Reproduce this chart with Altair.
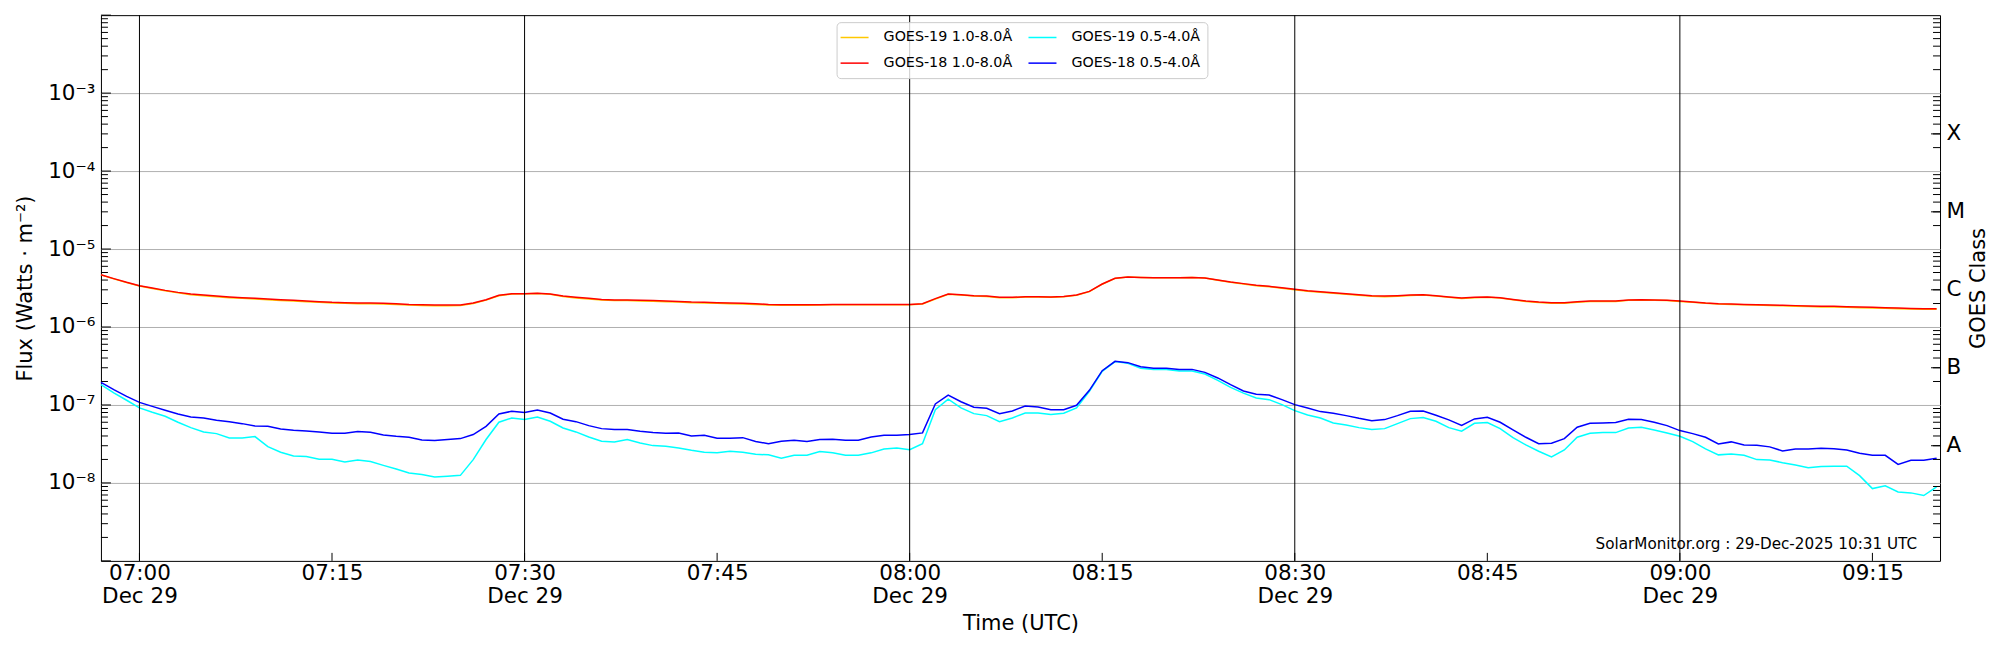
import json
import altair as alt
import pandas as pd

# ---------------- data: 1-minute GOES XRS samples, 29 Dec 2025, 06:57 .. 09:20 UTC ----------------
# long channel (1.0-8.0 Å) in units of 1e-6 W m^-2
g18_long = [4.69, 4.17, 3.74, 3.39, 3.16, 2.95, 2.78, 2.65, 2.57, 2.49,
            2.43, 2.38, 2.33, 2.29, 2.24, 2.20, 2.15, 2.11, 2.07, 2.05,
            2.03, 2.03, 2.01, 1.99, 1.95, 1.93, 1.91, 1.91, 1.91, 2.03,
            2.24, 2.55, 2.67, 2.67, 2.70, 2.65, 2.49, 2.40, 2.33, 2.26,
            2.22, 2.22, 2.20, 2.18, 2.15, 2.13, 2.09, 2.07, 2.05, 2.03,
            2.01, 1.99, 1.95, 1.93, 1.93, 1.93, 1.93, 1.95, 1.95, 1.95,
            1.95, 1.95, 1.95, 1.95, 1.99, 2.31, 2.65, 2.60, 2.52, 2.49,
            2.40, 2.40, 2.45, 2.45, 2.43, 2.47, 2.57, 2.86, 3.56, 4.21,
            4.38, 4.33, 4.29, 4.29, 4.29, 4.33, 4.25, 4.01, 3.78, 3.60,
            3.42, 3.32, 3.19, 3.04, 2.92, 2.84, 2.75, 2.67, 2.60, 2.52,
            2.49, 2.52, 2.57, 2.60, 2.52, 2.43, 2.35, 2.40, 2.43, 2.38,
            2.26, 2.15, 2.09, 2.05, 2.05, 2.11, 2.15, 2.15, 2.15, 2.22,
            2.24, 2.22, 2.20, 2.15, 2.09, 2.03, 1.99, 1.97, 1.95, 1.93,
            1.91, 1.90, 1.88, 1.86, 1.84, 1.84, 1.82, 1.80, 1.79, 1.77,
            1.75, 1.73, 1.72, 1.72]
g19_long = [4.66, 4.14, 3.71, 3.36, 3.12, 2.91, 2.74, 2.60, 2.52, 2.44,
            2.38, 2.33, 2.28, 2.24, 2.19, 2.15, 2.11, 2.07, 2.03, 2.01,
            1.99, 1.99, 1.97, 1.95, 1.91, 1.89, 1.87, 1.87, 1.88, 2.00,
            2.21, 2.52, 2.65, 2.66, 2.68, 2.63, 2.46, 2.36, 2.29, 2.22,
            2.18, 2.18, 2.16, 2.14, 2.11, 2.09, 2.05, 2.03, 2.01, 1.99,
            1.97, 1.95, 1.92, 1.90, 1.90, 1.90, 1.91, 1.93, 1.93, 1.93,
            1.93, 1.93, 1.93, 1.93, 1.97, 2.28, 2.63, 2.57, 2.49, 2.46,
            2.37, 2.37, 2.42, 2.43, 2.41, 2.45, 2.55, 2.84, 3.54, 4.20,
            4.38, 4.33, 4.28, 4.28, 4.28, 4.32, 4.24, 3.99, 3.75, 3.57,
            3.39, 3.29, 3.15, 3.00, 2.88, 2.80, 2.71, 2.63, 2.56, 2.48,
            2.45, 2.48, 2.54, 2.57, 2.49, 2.40, 2.32, 2.37, 2.40, 2.35,
            2.23, 2.12, 2.06, 2.02, 2.02, 2.08, 2.12, 2.13, 2.13, 2.20,
            2.22, 2.20, 2.18, 2.13, 2.07, 2.01, 1.97, 1.95, 1.93, 1.91,
            1.89, 1.87, 1.85, 1.83, 1.81, 1.81, 1.79, 1.77, 1.75, 1.74,
            1.72, 1.70, 1.69, 1.69]
# short channel (0.5-4.0 Å) in units of 1e-8 W m^-2
g18_short = [19.5, 15.7, 12.9, 10.8, 9.60, 8.55, 7.67, 7.02, 6.81, 6.35,
             6.11, 5.76, 5.38, 5.32, 4.92, 4.73, 4.64, 4.51, 4.33, 4.33,
             4.55, 4.46, 4.12, 3.96, 3.85, 3.56, 3.49, 3.60, 3.70, 4.17,
             5.32, 7.67, 8.30, 7.98, 8.63, 7.89, 6.55, 6.11, 5.43, 4.97,
             4.83, 4.83, 4.60, 4.42, 4.33, 4.38, 4.01, 4.09, 3.74, 3.74,
             3.81, 3.39, 3.19, 3.42, 3.52, 3.39, 3.60, 3.63, 3.52, 3.52,
             3.89, 4.09, 4.09, 4.17, 4.38, 10.3, 13.4, 11.0, 9.33, 9.06,
             7.74, 8.37, 9.70, 9.42, 8.71, 8.71, 9.90, 15.4, 27.5, 36.3,
             34.9, 31.0, 29.5, 29.5, 28.6, 28.6, 26.2, 22.2, 18.2, 15.1,
             13.7, 13.4, 11.7, 10.1, 9.16, 8.22, 7.82, 7.30, 6.74, 6.29,
             6.49, 7.30, 8.30, 8.37, 7.38, 6.43, 5.48, 6.62, 6.95, 6.00,
             4.78, 3.85, 3.19, 3.23, 3.70, 5.18, 5.82, 5.87, 5.94, 6.55,
             6.49, 6.00, 5.43, 4.69, 4.29, 3.85, 3.16, 3.36, 3.07, 3.04,
             2.90, 2.57, 2.73, 2.73, 2.78, 2.75, 2.65, 2.40, 2.26, 2.26,
             1.73, 1.95, 1.95, 2.07]
g19_short = [18.2, 14.3, 11.5, 9.16, 8.06, 7.16, 6.00, 5.12, 4.51, 4.29,
             3.77, 3.77, 3.93, 2.92, 2.47, 2.22, 2.18, 2.01, 2.01, 1.86,
             1.97, 1.88, 1.68, 1.51, 1.34, 1.28, 1.19, 1.22, 1.25, 1.99,
             3.60, 6.00, 6.81, 6.49, 7.02, 6.18, 5.07, 4.51, 3.89, 3.42,
             3.36, 3.60, 3.26, 3.01, 2.95, 2.81, 2.62, 2.47, 2.43, 2.55,
             2.47, 2.33, 2.29, 2.07, 2.26, 2.26, 2.52, 2.43, 2.26, 2.26,
             2.43, 2.73, 2.81, 2.67, 3.19, 8.71, 11.9, 9.16, 7.74, 7.30,
             6.11, 6.81, 7.89, 7.89, 7.52, 7.82, 9.16, 15.0, 27.0, 36.0,
             34.2, 29.5, 28.4, 28.4, 27.3, 27.3, 24.9, 20.7, 16.8, 14.2,
             12.3, 11.7, 10.1, 8.46, 7.44, 6.81, 5.87, 5.54, 5.12, 4.83,
             4.97, 5.76, 6.68, 6.89, 6.18, 5.12, 4.60, 5.82, 5.94, 4.97,
             3.81, 3.07, 2.55, 2.15, 2.65, 3.85, 4.33, 4.42, 4.42, 5.07,
             5.18, 4.78, 4.38, 3.96, 3.39, 2.73, 2.29, 2.35, 2.26, 1.99,
             1.97, 1.82, 1.70, 1.57, 1.62, 1.64, 1.64, 1.24, 0.846, 0.916,
             0.767, 0.745, 0.689, 0.889]

# legend entry order (filled column by column): G19 long, G18 long | G19 short, G18 short
SERIES = ["GOES-19 1.0-8.0Å", "GOES-18 1.0-8.0Å", "GOES-19 0.5-4.0Å", "GOES-18 0.5-4.0Å"]
COLORS = ["#ffc800", "#ff0000", "#00ffff", "#0000ff"]
DRAW_ORDER = ["GOES-19 1.0-8.0Å", "GOES-18 1.0-8.0Å", "GOES-19 0.5-4.0Å", "GOES-18 0.5-4.0Å"]

QUARTER_TICKS = ["07:00", "07:15", "07:30", "07:45", "08:00", "08:15", "08:30", "08:45", "09:00", "09:15"]
HALF_HOURS = ["07:00", "07:30", "08:00", "08:30", "09:00"]
DECADE_LABELS = ["10⁻⁸", "10⁻⁷", "10⁻⁶", "10⁻⁵", "10⁻⁴", "10⁻³"]
CLASS_LABELS = ["A", "B", "C", "M", "X"]
CREDIT = "SolarMonitor.org : 29-Dec-2025 10:31 UTC"

# ---------------- tables ----------------
times = pd.date_range("2025-12-29 06:57", periods=len(g18_long), freq="min").strftime("%Y-%m-%dT%H:%M:%SZ")
rows = []
for name, vals, unit in [("GOES-19 1.0-8.0Å", g19_long, 1e-6), ("GOES-18 1.0-8.0Å", g18_long, 1e-6),
                         ("GOES-19 0.5-4.0Å", g19_short, 1e-8), ("GOES-18 0.5-4.0Å", g18_short, 1e-8)]:
    for t, v in zip(times, vals):
        rows.append({"time": t, "flux": v * unit, "series": name})
df = pd.DataFrame(rows)


def iso(hhmm):
    return f"2025-12-29T{hhmm}:00Z"


def dt(h, m, s=0):
    return alt.DateTime(year=2025, month=12, date=29, hours=h, minutes=m, seconds=s, utc=True)


quarter_df = pd.DataFrame({"time": [iso(t) for t in QUARTER_TICKS]})
half_df = pd.DataFrame({"time": [iso(t) for t in HALF_HOURS]})
decades = [10.0 ** e for e in range(-9, -1)]
minors = [k * 10.0 ** e for e in range(-9, -2) for k in range(2, 10)]
class_vals = [3 * 10.0 ** e for e in range(-8, -3)]
dec_df = pd.DataFrame({"v": decades})
minor_df = pd.DataFrame({"v": minors})
class_df = pd.DataFrame({"v": class_vals})
credit_df = pd.DataFrame({"txt": [CREDIT]})

W, H = 1840, 546
FONT = "DejaVu Sans"
LBL = 21.5
TTL = 21

xscale = alt.Scale(type="utc", domain=[dt(6, 57), dt(9, 20, 16)])
yscale = alt.Scale(type="log", domain=[1e-9, 1e-2])

x_axis = alt.Axis(
    values=[dt(int(t[:2]), int(t[3:])) for t in QUARTER_TICKS],
    labelExpr="utcminutes(datum.value) % 30 == 0 ? [utcFormat(datum.value, '%H:%M'), utcFormat(datum.value, '%b %d')] : utcFormat(datum.value, '%H:%M')",
    grid=False, ticks=False, domain=False, labelFlush=False,
    labelFontSize=LBL, labelPadding=2, labelLineHeight=23,
    title="Time (UTC)", titleFontSize=TTL, titlePadding=5,
)
left_axis = alt.Axis(
    values=[10.0 ** e for e in range(-8, -2)],
    labelExpr=json.dumps(DECADE_LABELS, ensure_ascii=False) + "[round(log(datum.value)/LN10)+8]",
    grid=True, gridColor="#b0b0b0", gridWidth=1, ticks=False, domain=False,
    labelFontSize=LBL, labelPadding=6,
    title="Flux (Watts · m⁻²)", titleFontSize=TTL, titlePadding=12,
)
right_axis = alt.Axis(
    orient="right",
    values=class_vals,
    labelExpr=json.dumps(CLASS_LABELS) + "[round(log(datum.value/3)/LN10)+8]",
    grid=False, ticks=False, domain=False,
    labelFontSize=LBL, labelPadding=6,
    title="GOES Class", titleFontSize=TTL, titleAngle=270, titleBaseline="top", titlePadding=3,
)

legend = alt.Legend(
    orient="none", legendX=736, legendY=7, columns=2, title=None,
    symbolType="M-2,0H2", symbolSize=196, symbolStrokeWidth=1.5, symbolOffset=3,
    labelFont=FONT, labelFontSize=14.3, labelColor="black", labelLimit=0,
    padding=7, rowPadding=10, columnPadding=13, labelOffset=21,
    strokeColor="#cccccc", fillColor="rgba(255,255,255,0.8)", cornerRadius=4,
)
color = alt.Color("series:N", scale=alt.Scale(domain=SERIES, range=COLORS), legend=legend)

Y = lambda: alt.Y("v:Q", scale=yscale, axis=left_axis)

left_major = alt.Chart(dec_df).mark_rule(color="black", strokeWidth=1).encode(
    y=Y(), x=alt.value(0), x2=alt.value(10))
left_minor = alt.Chart(minor_df).mark_rule(color="black", strokeWidth=1).encode(
    y=Y(), x=alt.value(0), x2=alt.value(7))
bottom_ticks = alt.Chart(quarter_df).mark_rule(color="black", strokeWidth=1).encode(
    x=alt.X("time:T", scale=xscale, axis=x_axis), y=alt.value(H - 8), y2=alt.value(H))

lines = []
for name in DRAW_ORDER:
    lines.append(
        alt.Chart(df).transform_filter(alt.datum.series == name)
        .mark_line(strokeWidth=1.5, interpolate="linear")
        .encode(
            x=alt.X("time:T", scale=xscale, axis=x_axis),
            y=alt.Y("flux:Q", scale=yscale, axis=left_axis),
            color=color,
        )
    )

vlines = alt.Chart(half_df).mark_rule(color="black", strokeWidth=1).encode(
    x=alt.X("time:T", scale=xscale, axis=x_axis))

credit = alt.Chart(credit_df).mark_text(
    align="right", baseline="alphabetic", font=FONT, fontSize=15.2, color="black"
).encode(text="txt:N", x=alt.value(W - 23), y=alt.value(H - 12))

inner = alt.layer(left_minor, left_major, bottom_ticks, *lines, vlines, credit)

right_minor = alt.Chart(minor_df).mark_rule(color="black", strokeWidth=1).encode(
    y=alt.Y("v:Q", scale=yscale, axis=right_axis), x=alt.value(W - 7), x2=alt.value(W))
right_major = alt.Chart(class_df).mark_rule(color="black", strokeWidth=1).encode(
    y=alt.Y("v:Q", scale=yscale, axis=right_axis), x=alt.value(W - 9), x2=alt.value(W))
right = alt.layer(right_minor, right_major)

chart = (
    alt.layer(inner, right)
    .resolve_scale(y="independent")
    .properties(
        width=W, height=H,
        autosize=alt.AutoSizeParams(type="none"),
        padding={"left": 93, "top": 7, "right": 52, "bottom": 80},
        background="white",
    )
    .configure_view(stroke="black", strokeWidth=1)
    .configure_axis(labelFont=FONT, titleFont=FONT, labelColor="black", titleColor="black",
                    titleFontWeight="normal")
)

chart.save("out.html", embed_options={"renderer": "svg", "actions": False})
